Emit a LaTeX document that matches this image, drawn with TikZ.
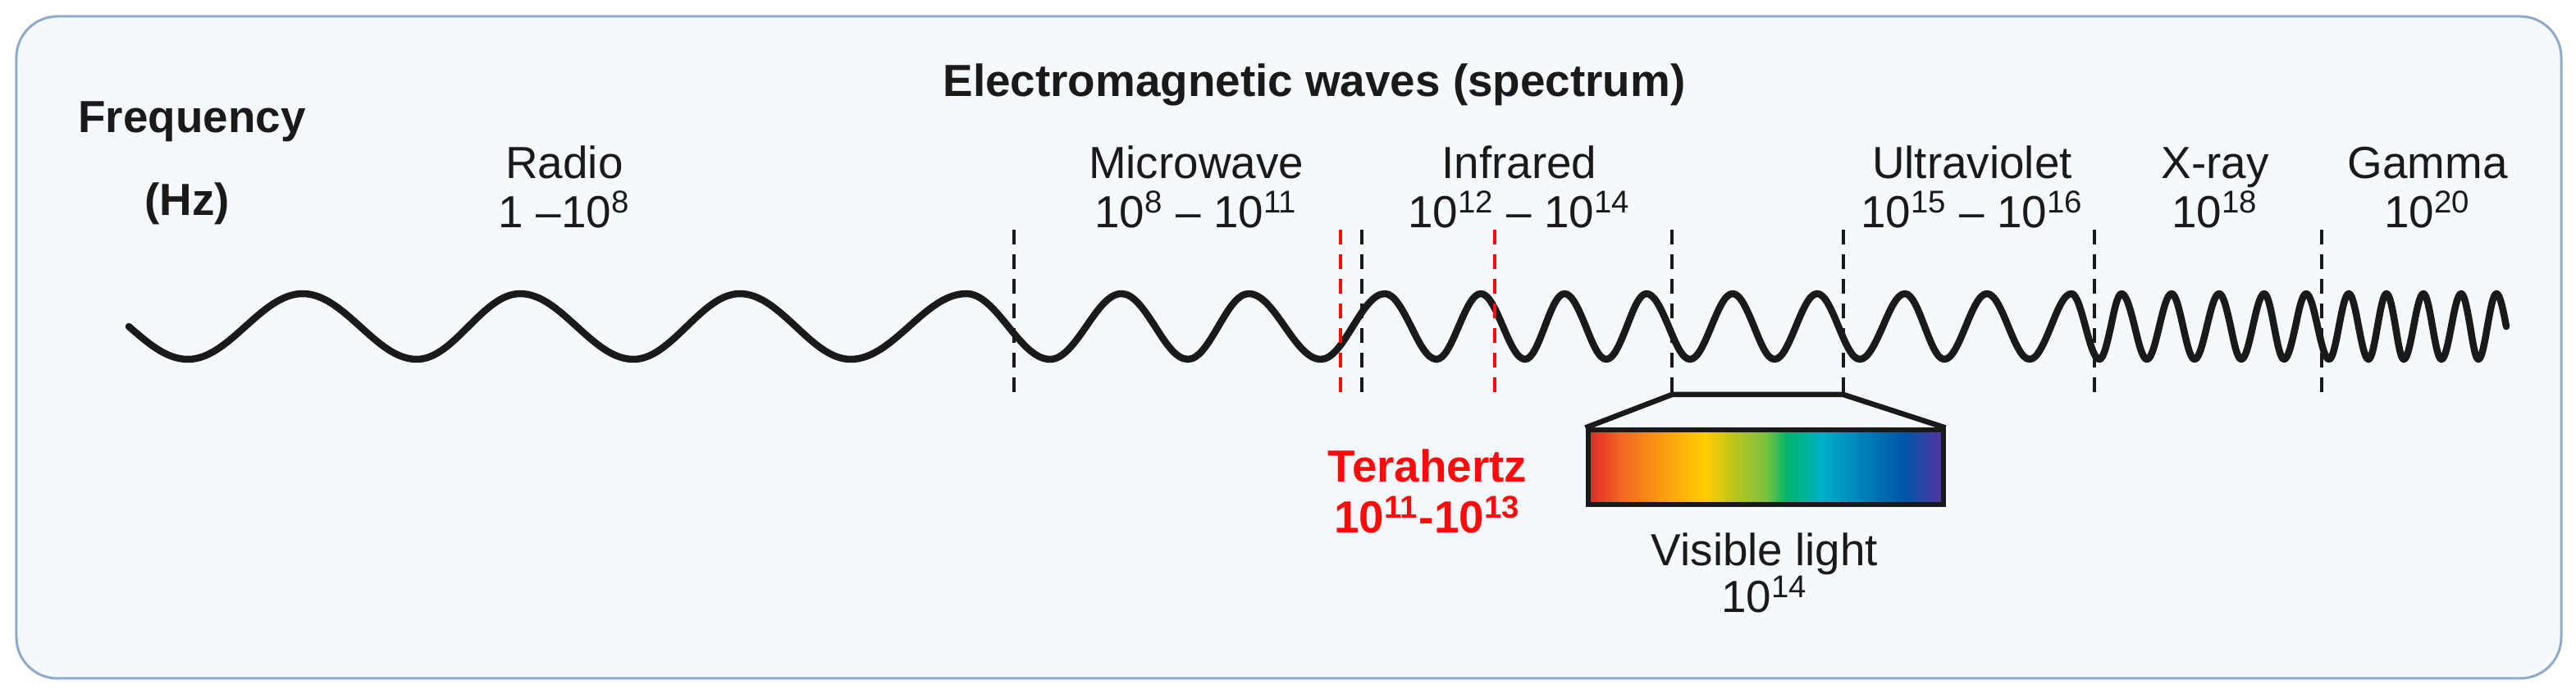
\documentclass[tikz,border=0pt]{standalone}
\usepackage{fontspec}
\setmainfont{Liberation Sans}
\usetikzlibrary{positioning}

\definecolor{framefill}{HTML}{F5F9FD}
\definecolor{frameline}{HTML}{8FAACB}
\definecolor{inkblack}{HTML}{1A1A1A}
\definecolor{thzred}{HTML}{FF0A0A}
% colours of the visible band
\definecolor{specA}{HTML}{E3262A}
\definecolor{specB}{HTML}{F26522}
\definecolor{specC}{HTML}{FBA10F}
\definecolor{specD}{HTML}{FFCC00}
\definecolor{specE}{HTML}{B5C31F}
\definecolor{specF}{HTML}{7DC242}
\definecolor{specG}{HTML}{00B56A}
\definecolor{specH}{HTML}{00B0C8}
\definecolor{specI}{HTML}{0081B8}
\definecolor{specJ}{HTML}{0056A8}
\definecolor{specK}{HTML}{5533A0}

\pgfdeclarehorizontalshading{visspec}{100bp}{color(0bp)=(specA); color(25bp)=(specA);
  color(29.5bp)=(specB); color(36bp)=(specC); color(41.5bp)=(specD); color(46bp)=(specE);
  color(50bp)=(specF); color(53bp)=(specG); color(58bp)=(specH); color(63.5bp)=(specI);
  color(69.5bp)=(specJ); color(75bp)=(specK); color(100bp)=(specK)}

\tikzset{
    %Define text styles
    lbl/.style={
           font=\fontsize{15.6}{18}\selectfont,
           text=inkblack,
           inner sep=0pt,
           anchor=base},
    hdr/.style={
           lbl,
           font=\fontsize{15.6}{18}\selectfont\bfseries},
    thz/.style={
           hdr,
           text=thzred},
    % Define line styles
    wavepen/.style={
           line width=0.85mm,
           draw=inkblack,
           line cap=round,
           line join=round},
    divider/.style={
           line width=0.4mm,
           dash pattern=on 1.8mm off 1.2mm},
    funnel/.style={
           line width=0.65mm,
           draw=inkblack,
           line join=miter},
    specbox/.style={
           rectangle,
           draw=inkblack,
           line width=0.6mm,
           shade,
           shading=visspec,
           minimum width=4.33cm,
           minimum height=0.91cm,
           inner sep=0pt}
}

\begin{document}
\begin{tikzpicture}
\useasboundingbox (0,0) rectangle (31.4,8.46);
\draw[frameline, fill=framefill, line width=0.3mm, rounded corners=0.5cm] (0.2,0.19) rectangle (31.22,8.26);

\node[hdr] (title) at (16.02,7.28) {Electromagnetic waves (spectrum)};
\node[hdr] (freq) at (2.34,6.84) {Frequency};
\node[hdr] (hz) at (2.28,5.83) {(Hz)};

\node[lbl] (radio) at (6.88,6.28) {Radio};
\node[lbl] (radio-f) at ([yshift=-0.6cm]radio.base) {1 --10\textsuperscript{8}};
\node[lbl] (micro) at (14.58,6.28) {Microwave};
\node[lbl] (micro-f) at ([yshift=-0.6cm]micro.base) {10\textsuperscript{8} -- 10\textsuperscript{11}};
\node[lbl] (infra) at (18.52,6.28) {Infrared};
\node[lbl] (infra-f) at ([yshift=-0.6cm]infra.base) {10\textsuperscript{12} -- 10\textsuperscript{14}};
\node[lbl] (ultra) at (24.04,6.28) {Ultraviolet};
\node[lbl] (ultra-f) at ([yshift=-0.6cm]ultra.base) {10\textsuperscript{15} -- 10\textsuperscript{16}};
\node[lbl] (xray) at (27.00,6.28) {X-ray};
\node[lbl] (xray-f) at ([yshift=-0.6cm]xray.base) {10\textsuperscript{18}};
\node[lbl] (gamma) at (29.59,6.28) {Gamma};
\node[lbl] (gamma-f) at ([yshift=-0.6cm]gamma.base) {10\textsuperscript{20}};

% the wave, getting shorter to the right
\draw[wavepen] (1.57,4.48) \foreach \e/\m/\s in {
    2.29/2.99/-1, 3.69/4.39/1, 5.08/5.71/-1, 6.34/7.03/1, 7.72/8.37/-1, 9.02/9.70/1,
    10.37/11.08/-1, 11.78/12.29/1, 12.80/13.24/-1, 13.67/14.08/1, 14.48/14.85/-1,
    15.22/15.66/1, 16.10/16.49/-1, 16.88/17.20/1, 17.51/17.78/-1, 18.05/18.32/1,
    18.59/18.83/-1, 19.07/19.33/1, 19.58/19.83/-1, 20.07/20.34/1, 20.60/20.86/-1,
    21.12/21.38/1, 21.63/21.89/-1, 22.15/22.41/1, 22.67/22.95/-1, 23.22/23.46/1,
    23.70/23.96/-1, 24.22/24.48/1, 24.74/25.00/-1, 25.25/25.42/1, 25.59/25.73/-1,
    25.86/26.02/1, 26.17/26.32/-1, 26.47/26.61/1, 26.75/26.90/-1, 27.05/27.19/1,
    27.32/27.46/-1, 27.60/27.72/1, 27.84/27.98/-1, 28.11/28.25/1, 28.39/28.51/-1,
    28.63/28.75/1, 28.87/28.98/-1, 29.09/29.20/1, 29.30/29.42/-1, 29.54/29.65/1,
    29.76/29.88/-1, 30.00/30.11/1, 30.21/30.32/-1, 30.43/30.55/1}
    { sin (\e,{4.48+0.4*\s}) cos (\m,4.48) };

% band borders
\foreach \x/\n in {12.36/b1,16.60/b2,20.38/b3,22.47/b4,25.53/b5,28.30/b6}{
    \coordinate (\n-top) at (\x,5.66);
    \coordinate (\n-bot) at (\x,3.65);
    \draw[divider, inkblack] (\n-top) -- (\n-bot);
}
\foreach \x/\n in {16.34/t1,18.22/t2}{
    \coordinate (\n-top) at (\x,5.66);
    \coordinate (\n-bot) at (\x,3.65);
    \draw[divider, thzred] (\n-top) -- (\n-bot);
}

\node[thz] (thz) at (17.40,2.58) {Terahertz};
\node[thz] (thz-f) at ([yshift=-0.62cm]thz.base) {10\textsuperscript{11}-10\textsuperscript{13}};

\node[specbox] (visbox) at (21.52,2.76) {};
\draw[funnel] (visbox.north west) -- (b3-bot) -- (b4-bot) -- (visbox.north east);
\node[lbl] (vis) at (21.51,1.56) {Visible light};
\node[lbl] (vis-f) at ([yshift=-0.57cm]vis.base) {10\textsuperscript{14}};
\end{tikzpicture}
\end{document}
